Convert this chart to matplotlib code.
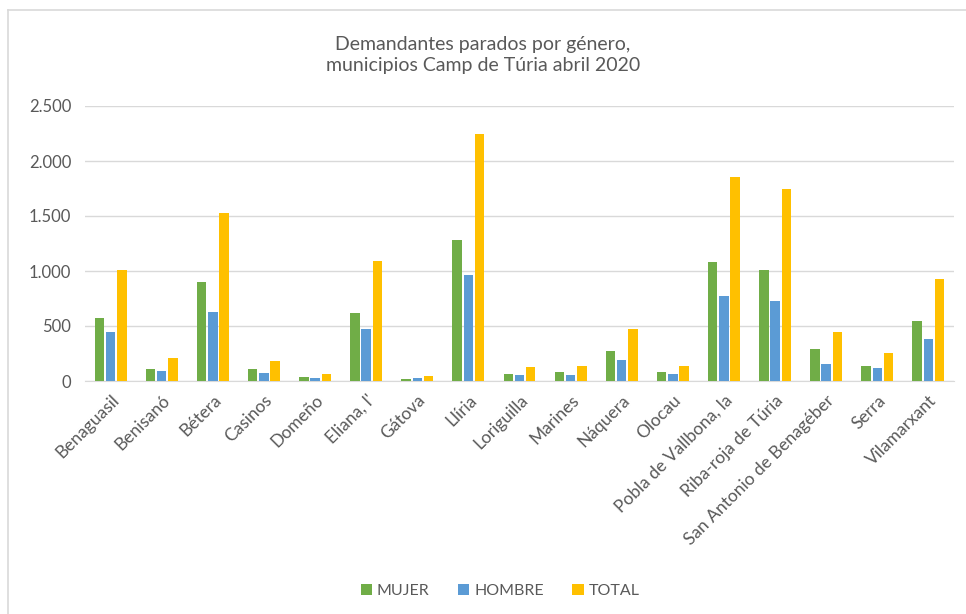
import matplotlib.pyplot as plt
import numpy as np
from matplotlib.lines import Line2D
from matplotlib.ticker import FuncFormatter

plt.rcParams['font.family'] = ['Lato', 'DejaVu Sans']

# values
municipios = ['Benaguasil', 'Benisanó', 'Bétera', 'Casinos', 'Domeño', "Eliana, l'",
              'Gátova', 'Llíria', 'Loriguilla', 'Marines', 'Náquera', 'Olocau',
              'Pobla de Vallbona, la', 'Riba-roja de Túria', 'San Antonio de Benagéber',
              'Serra', 'Vilamarxant']
mujer = [570, 110, 900, 110, 38, 615, 14, 1282, 68, 80, 277, 80, 1083, 1010, 288, 138, 542]
hombre = [446, 89, 627, 71, 24, 476, 26, 966, 53, 53, 195, 62, 775, 730, 156, 120, 382]
total = [1010, 206, 1530, 182, 65, 1095, 47, 2245, 128, 140, 475, 137, 1855, 1746, 446, 258, 930]
series = [('MUJER', mujer, '#70AD47'), ('HOMBRE', hombre, '#5B9BD5'), ('TOTAL', total, '#FFC000')]

fig = plt.figure(figsize=(9.66, 6.14), dpi=100)
ax = fig.add_axes([85 / 966, 1 - 381 / 614, (954 - 85) / 966, (381 - 106) / 614])

x = np.arange(len(municipios))
w = 0.185
gap = 0.035
for i, (name, vals, col) in enumerate(series):
    ax.bar(x + (i - 1) * (w + gap), vals, width=w, color=col, label=name, zorder=3)

ax.set_xlim(-0.5, len(municipios) - 0.5)
ax.set_ylim(0, 2500)
ax.set_yticks(np.arange(0, 2501, 500))
ax.yaxis.set_major_formatter(FuncFormatter(lambda v, p: f"{int(v):,}".replace(',', '.')))
ax.grid(axis='y', color='#D9D9D9', linewidth=1, zorder=0)
for s in ['top', 'right', 'left']:
    ax.spines[s].set_visible(False)
ax.spines['bottom'].set_color('#D9D9D9')
ax.tick_params(axis='both', length=0, colors='#595959', labelsize=12)
ax.tick_params(axis='y', pad=10)
ax.tick_params(axis='x', pad=8, labelsize=12.5)
ax.set_xticks(x)
ax.set_xticklabels(municipios, rotation=45, ha='right', rotation_mode='anchor')

fig.text(0.5, 1 - 55 / 614, 'Demandantes parados por género,\nmunicipios Camp de Túria abril 2020',
         ha='center', va='center', fontsize=14, color='#595959', linespacing=1.3)

ax.legend(loc='center', bbox_to_anchor=(500 / 966, 1 - 591 / 614), bbox_transform=fig.transFigure,
          ncol=3, frameon=False, fontsize=11.5, labelcolor='#595959', handlelength=0.7,
          handleheight=0.7, handletextpad=0.3, columnspacing=1.8)

# chart border (only top and left visible in the reference)
fig.add_artist(Line2D([8 / 966, 8 / 966], [0, 1 - 10 / 614], color='#D9D9D9', lw=1.2))
fig.add_artist(Line2D([8 / 966, 1], [1 - 10 / 614, 1 - 10 / 614], color='#D9D9D9', lw=1.2))

fig.savefig('out.png', dpi=100)
